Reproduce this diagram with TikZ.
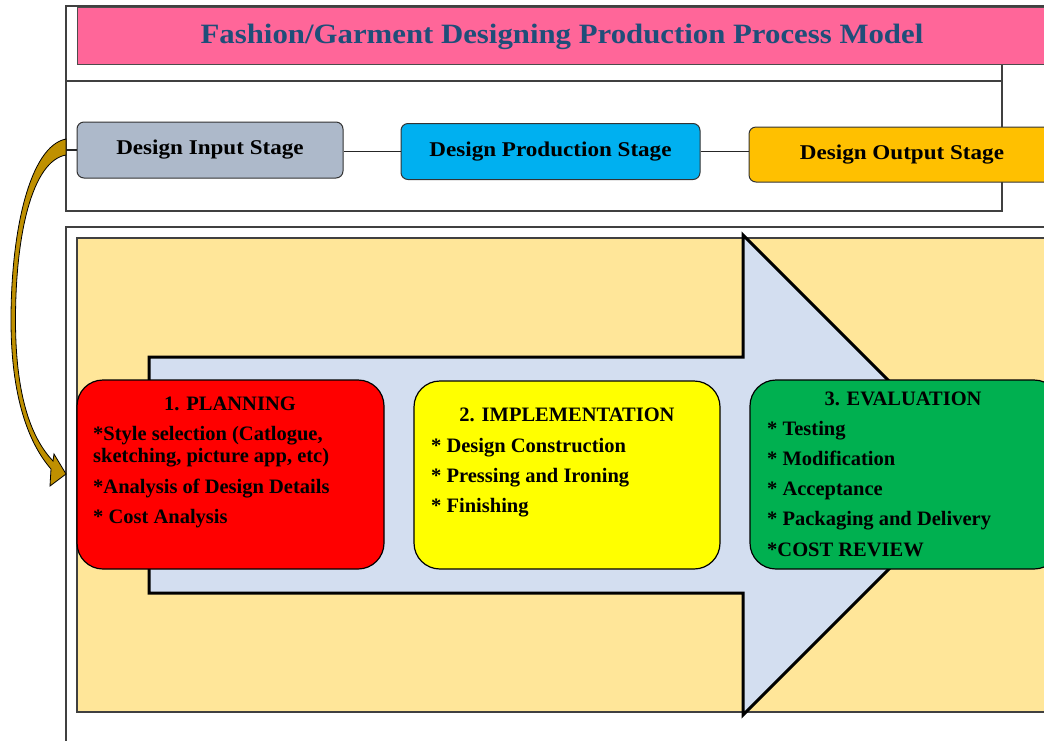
\documentclass[tikz,border=0pt]{standalone}
\usepackage{fontspec}
\setmainfont{Liberation Serif}
\newfontfamily\wideserif{Liberation Serif}[FakeStretch=1.1]
\definecolor{titlepink}{HTML}{FF6699}
\definecolor{titleblue}{HTML}{1F4E79}
\definecolor{inputgray}{HTML}{ADB9CA}
\definecolor{prodblue}{HTML}{00B0F0}
\definecolor{outorange}{HTML}{FFC000}
\definecolor{bgyellow}{HTML}{FFE699}
\definecolor{arrowblue}{HTML}{D3DEF0}
\definecolor{planred}{HTML}{FF0000}
\definecolor{implyellow}{HTML}{FFFF00}
\definecolor{evalgreen}{HTML}{00B050}
\definecolor{loopbrown}{HTML}{BF9000}
\begin{document}
\begin{tikzpicture}[x=1pt,y=-1pt,
  frameline/.style={draw=black!75, line width=1.3pt},
  stagebox/.style={draw=black!80, line width=1pt, rounded corners=7pt, minimum height=56pt, inner sep=0pt,
    font=\wideserif\bfseries\fontsize{21}{24}\selectfont},
  phasebox/.style={draw=black, line width=1.2pt, rounded corners=26pt, minimum height=189pt, inner sep=0pt},
  phasetitle/.style={anchor=base, inner sep=0pt, font=\bfseries\fontsize{20.5}{24}\selectfont},
  bulletline/.style={anchor=base west, inner sep=0pt, font=\bfseries\fontsize{20.5}{24}\selectfont},
  connector/.style={draw=black!85, line width=1.2pt}]
\useasboundingbox (0,0) rectangle (1044,740);

% top frame
\draw[frameline] (1050,6) -- (66,6) -- (66,211) -- (1002,211) -- (1002,60);
\draw[frameline] (66,81) -- (1002,81);

% title
\node[draw=black!70, line width=1pt, fill=titlepink, minimum width=990pt, minimum height=57pt, inner sep=0pt, anchor=north west]
  (titlebox) at (77,7) {};
\node[anchor=base, inner sep=0pt, text=titleblue, font=\wideserif\bfseries\fontsize{28}{32}\selectfont]
  (titletext) at (562,43) {Fashion/Garment Designing Production Process Model};

% stage boxes
\node[stagebox, fill=inputgray, minimum width=266pt] (input) at (210,150) {Design Input Stage};
\node[stagebox, fill=prodblue, minimum width=299pt] (prod) at (550.5,151.5) {Design Production Stage};
\node[stagebox, fill=outorange, minimum width=306pt, minimum height=55pt] (output) at (902,154.5) {Design Output Stage};
\draw[connector] (prod.west) -- (prod.west -| input.east);
\draw[connector] (prod.east) -- (prod.east -| output.west);
\coordinate (loopstart) at (66,150);
\draw[connector] (loopstart) -- (input.west);

% bottom frame
\draw[frameline] (66,745) -- (66,227) -- (1050,227);
\draw[draw=black!75, line width=1.2pt, fill=bgyellow] (77,238) rectangle (1050,712);

% big arrow
\draw[fill=arrowblue, draw=black, line width=3pt, line join=miter]
  (149,357) -- (743,357) -- (743,235) -- (983,475) -- (743,715) -- (743,593) -- (149,593) -- cycle;

% phase boxes
\node[phasebox, fill=planred, minimum width=307pt] (plan) at (230.5,474.5) {};
\node[phasebox, fill=implyellow, minimum width=306pt, minimum height=188pt] (impl) at (567,475) {};
\node[phasebox, fill=evalgreen, minimum width=310pt] (eval) at (905,474.5) {};

% planning text
\node[phasetitle] (plant) at (230,410) {1. PLANNING};
\node[bulletline] (plan1) at (93,440) {*Style selection (Catlogue,};
\node[bulletline] (plan2) at (93,462) {sketching, picture app, etc)};
\node[bulletline] (plan3) at (93,493) {*Analysis of Design Details};
\node[bulletline] (plan4) at (93,523) {* Cost Analysis};

% implementation text
\node[phasetitle] (implt) at (567,421) {2. IMPLEMENTATION};
\node[bulletline] (impl1) at (431,452) {* Design Construction};
\node[bulletline] (impl2) at (431,482) {* Pressing and Ironing};
\node[bulletline] (impl3) at (431,512) {* Finishing};

% evaluation text
\node[phasetitle] (evalt) at (903,405) {3. EVALUATION};
\node[bulletline] (eval1) at (767,435) {* Testing};
\node[bulletline] (eval2) at (767,465) {* Modification};
\node[bulletline] (eval3) at (767,495) {* Acceptance};
\node[bulletline] (eval4) at (767,525) {* Packaging and Delivery};
\node[bulletline] (eval5) at (767,556) {*COST REVIEW};

% looping brown arrow
\coordinate (loopend) at (66,474);
\draw[fill=loopbrown, draw=black, line width=0.8pt, line join=miter]
  (66,139) .. controls (30,146) and (11,230) .. (11,320)
  .. controls (11,400) and (30,445) .. (51,469)
  -- (50,486) -- (loopend) -- (54,454) -- (53,461)
  .. controls (33,440) and (15.5,400) .. (15.5,320)
  .. controls (15.5,235) and (32,161) .. (66,155) -- cycle;
\end{tikzpicture}
\end{document}
